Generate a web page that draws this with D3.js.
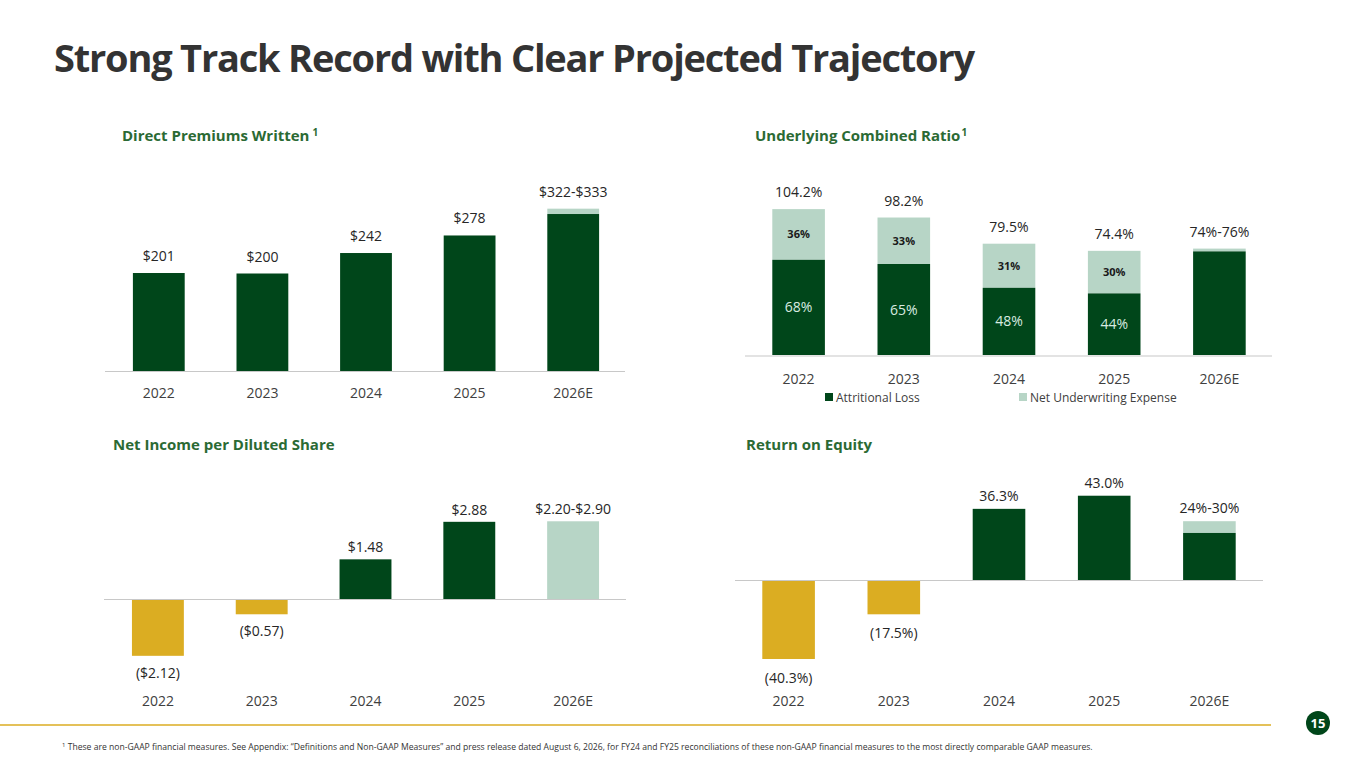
<!DOCTYPE html><html><head><meta charset="utf-8">
<script src="https://cdn.jsdelivr.net/npm/d3@7"></script>
<style>body{margin:0;background:#fff;font-family:"Open Sans",sans-serif}</style></head><body>
<svg id="c" width="1365" height="768"></svg>
<script>
const years=["2022","2023","2024","2025","2026E"];
const dpw=[201,200,242,278,322], dpwHigh=[null,null,null,null,333];
const dpwLabels=["$201","$200","$242","$278","$322-$333"];
const ucrTotal=[104.2,98.2,79.5,74.4,74], ucrAttr=[68,65,48,44,74], ucrHigh=[null,null,null,null,76];
const ucrTotalLabels=["104.2%","98.2%","79.5%","74.4%","74%-76%"];
const ucrAttrLabels=["68%","65%","48%","44%",""];
const ucrExpLabels=["36%","33%","31%","30%",""];
const eps=[-2.12,-0.57,1.48,2.88,2.90];
const epsLabels=["($2.12)","($0.57)","$1.48","$2.88","$2.20-$2.90"];
const roe=[-40.3,-17.5,36.3,43.0,24], roeHigh=[null,null,null,null,30];
const roeLabels=["(40.3%)","(17.5%)","36.3%","43.0%","24%-30%"];
const DG="#00461a",LG="#b7d5c6",GOLD="#dbad22",TG="#2b6a34";
const svg=d3.select("#c");
svg.append("text").attr("x",54).attr("y",72).attr("font-size",38).attr("font-weight",700).attr("letter-spacing",-1.2).attr("fill","#333").text("Strong Track Record with Clear Projected Trajectory");
function head(x,y,t,sup){const e=svg.append("text").attr("x",x).attr("y",y).attr("font-size",15).attr("font-weight",700).attr("fill",TG).text(t);if(sup)e.append("tspan").attr("font-size",10).attr("dy",-5).attr("dx",sup==2?3:1).text("1");}
head(122,141,"Direct Premiums Written",2);head(755,141,"Underlying Combined Ratio",1);
head(113,450,"Net Income per Diluted Share");head(746,450,"Return on Equity");
function xs(l,r){return d3.scaleBand().domain(years).range([l,r]).paddingInner(0.5).paddingOuter(0.25);}
function base(x0,x1,y){svg.append("line").attr("x1",x0).attr("x2",x1).attr("y1",y).attr("y2",y).attr("stroke","#c8c8c8").attr("stroke-width",1.2);}
function ticks(x,y){svg.append("g").selectAll("text").data(years).join("text").attr("x",d=>x(d)+x.bandwidth()/2).attr("y",y).attr("text-anchor","middle").attr("font-size",14).attr("fill","#404040").text(d=>d);}
function txt(x,y,t,o={}){svg.append("text").attr("x",x).attr("y",y).attr("text-anchor","middle").attr("font-size",o.s||14).attr("font-weight",o.w||400).attr("fill",o.c||"#262626").text(t);}
// Panel 1
{const x=xs(107,625),y=d3.scaleLinear().domain([0,100]).range([371,322.25]);
years.forEach((d,i)=>{const cx=x(d)+x.bandwidth()/2;
 if(dpwHigh[i])svg.append("rect").attr("x",x(d)).attr("width",x.bandwidth()).attr("y",y(dpwHigh[i])).attr("height",y(dpw[i])-y(dpwHigh[i])).attr("fill",LG);
 svg.append("rect").attr("x",x(d)).attr("width",x.bandwidth()).attr("y",y(dpw[i])).attr("height",y(0)-y(dpw[i])).attr("fill",DG);
 txt(cx,y(dpwHigh[i]||dpw[i])-12,dpwLabels[i]);});
base(105,625,371.5);ticks(x,398);}
// Panel 2
{const x=xs(746,1272),y=d3.scaleLinear().domain([0,100]).range([355,215]);
years.forEach((d,i)=>{const cx=x(d)+x.bandwidth()/2,top=ucrHigh[i]||ucrTotal[i];
 svg.append("rect").attr("x",x(d)).attr("width",x.bandwidth()).attr("y",y(top)).attr("height",y(ucrAttr[i])-y(top)).attr("fill",LG);
 svg.append("rect").attr("x",x(d)).attr("width",x.bandwidth()).attr("y",y(ucrAttr[i])).attr("height",y(0)-y(ucrAttr[i])).attr("fill",DG);
 txt(cx,y(top)-12,ucrTotalLabels[i]);
 if(ucrExpLabels[i])txt(cx,(y(top)+y(ucrAttr[i]))/2+4,ucrExpLabels[i],{s:11,w:700,c:"#1a1a1a"});
 if(ucrAttrLabels[i])txt(cx,(y(ucrAttr[i])+y(0))/2+5,ucrAttrLabels[i],{c:"#d8ebe0"});});
base(745,1272,356);ticks(x,384);
const lg=svg.append("g").attr("font-size",12).attr("fill","#404040");
lg.append("rect").attr("x",825).attr("y",393).attr("width",8).attr("height",8).attr("fill",DG);
lg.append("text").attr("x",836).attr("y",402).text("Attritional Loss");
lg.append("rect").attr("x",1019).attr("y",393).attr("width",8).attr("height",8).attr("fill",LG);
lg.append("text").attr("x",1030).attr("y",402).text("Net Underwriting Expense");}
// Panel 3
{const x=xs(106,625),y=d3.scaleLinear().domain([0,1]).range([599,572.2]);
years.forEach((d,i)=>{const v=eps[i],cx=x(d)+x.bandwidth()/2;
 const col=v<0?GOLD:(i==4?LG:DG);
 svg.append("rect").attr("x",x(d)).attr("width",x.bandwidth()).attr("y",Math.min(y(v),y(0))).attr("height",Math.abs(y(v)-y(0))).attr("fill",col);
 txt(cx,v<0?y(v)+22:y(v)-7,epsLabels[i]);});
base(104,626,599.5);ticks(x,706);}
// Panel 4
{const x=xs(736,1262),y=d3.scaleLinear().domain([0,10]).range([580,560.4]);
years.forEach((d,i)=>{const v=roe[i],cx=x(d)+x.bandwidth()/2;
 if(roeHigh[i])svg.append("rect").attr("x",x(d)).attr("width",x.bandwidth()).attr("y",y(roeHigh[i])).attr("height",y(v)-y(roeHigh[i])).attr("fill",LG);
 svg.append("rect").attr("x",x(d)).attr("width",x.bandwidth()).attr("y",Math.min(y(v),y(0))).attr("height",Math.abs(y(v)-y(0))).attr("fill",v<0?GOLD:DG);
 const t=roeHigh[i]||v;
 txt(cx,v<0?y(v)+24:y(t)-8,roeLabels[i]);});
base(735,1263,580.5);ticks(x,706);}
svg.append("line").attr("x1",0).attr("x2",1271).attr("y1",725).attr("y2",725).attr("stroke",GOLD).attr("stroke-width",1.5);
svg.append("circle").attr("cx",1318).attr("cy",723).attr("r",12).attr("fill",DG);
svg.append("text").attr("x",1318).attr("y",728).attr("text-anchor","middle").attr("font-size",13).attr("font-weight",700).attr("fill","#fff").text("15");
const fn=svg.append("text").attr("x",62).attr("y",750).attr("font-size",8.6).attr("fill","#333");
fn.append("tspan").attr("font-size",6).attr("dy",-3).text("1");
fn.append("tspan").attr("dy",3).text(" These are non-GAAP financial measures. See Appendix: \u201cDefinitions and Non-GAAP Measures\u201d and press release dated August 6, 2026, for FY24 and FY25 reconciliations of these non-GAAP financial measures to the most directly comparable GAAP measures.");
</script></body></html>
